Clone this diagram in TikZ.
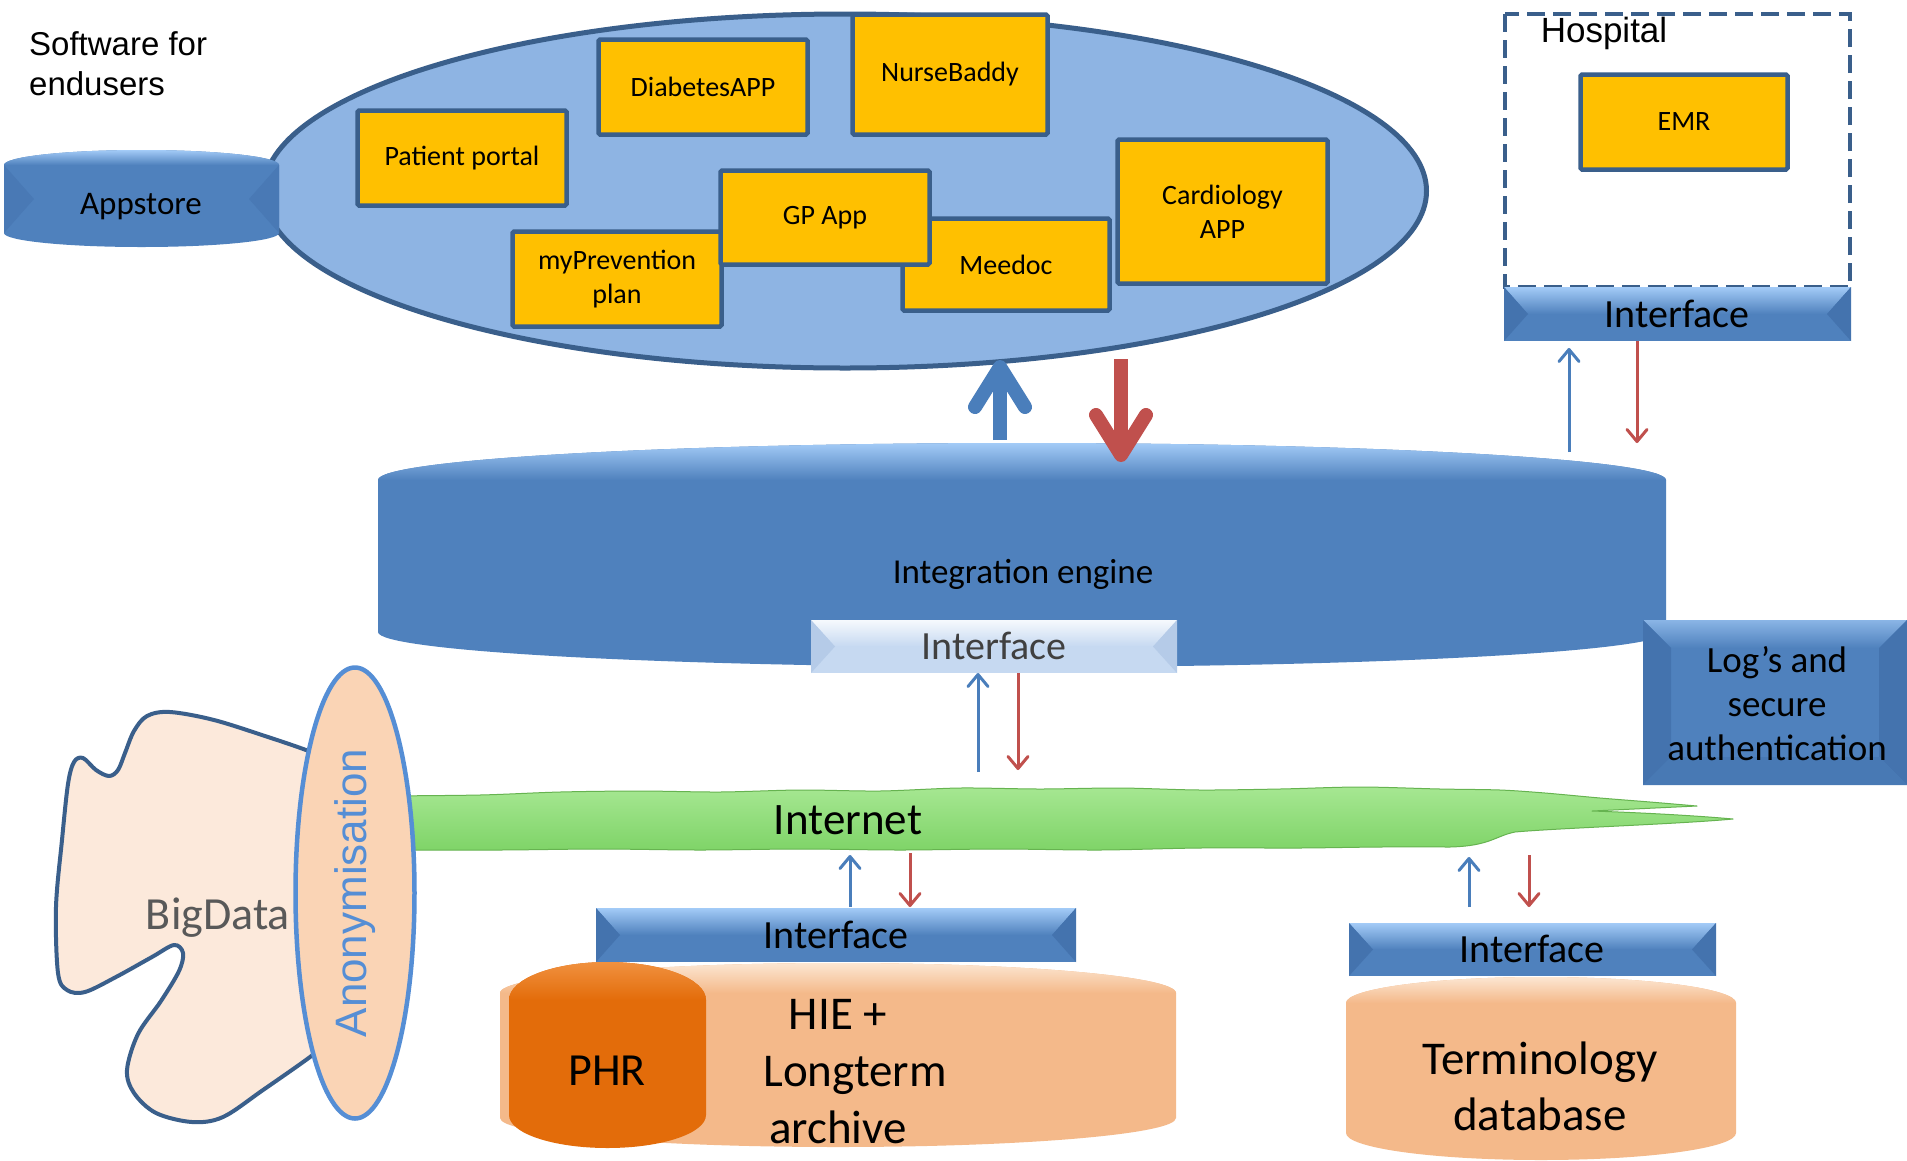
\documentclass[tikz,border=0pt]{standalone}
\usepackage{fontspec}
\setmainfont{Carlito}
\newfontfamily\arialf{Liberation Sans}
\usetikzlibrary{shapes.geometric,arrows.meta}
\definecolor{boxorange}{HTML}{FFC000}
\definecolor{boxedge}{HTML}{3A5F8B}
\definecolor{ellfill}{HTML}{8EB4E3}
\definecolor{midblue}{HTML}{4F81BD}
\definecolor{lightblue}{HTML}{A3CBF7}
\definecolor{sideblue}{HTML}{4473AE}
\definecolor{paleblue}{HTML}{C6D9F1}
\definecolor{palewhite}{HTML}{F6F9FD}
\definecolor{paleside}{HTML}{B5CBE8}
\definecolor{arrblue}{HTML}{4A7EBB}
\definecolor{arrred}{HTML}{C0504D}
\definecolor{peach}{HTML}{F4B98A}
\definecolor{peachlight}{HTML}{FCE6D2}
\definecolor{phr}{HTML}{E36C0A}
\definecolor{phrlight}{HTML}{F0913F}
\definecolor{netgreen}{HTML}{7FD468}
\definecolor{netlight}{HTML}{A6E792}
\definecolor{netedge}{HTML}{66B350}
\definecolor{anonfill}{HTML}{FAD4B5}
\definecolor{anonedge}{HTML}{558ED5}
\definecolor{blobfill}{HTML}{FCE9DB}
\definecolor{graytext}{HTML}{595959}
\definecolor{darktext}{HTML}{404040}
\newcommand{\bevelbar}[7]{%
  \fill[#5] (#1,#2) rectangle (#3,#4);
  \shade[top color=#6, bottom color=#5] (#1,#2) -- (#3,#2) -- ({#3-24},{(#2+#4)/2}) -- ({#1+24},{(#2+#4)/2}) -- cycle;
  \fill[#7] (#1,#2) -- ({#1+24},{(#2+#4)/2}) -- (#1,#4) -- cycle;
  \fill[#7] (#3,#2) -- ({#3-24},{(#2+#4)/2}) -- (#3,#4) -- cycle;
}
\newcommand{\canshape}[8]{%
  \fill[#7] (#1,#3) -- (#1,#5) arc[start angle=180, end angle=0, x radius={(#2-#1)/2}, y radius=#6] -- (#2,#3) arc[start angle=0, end angle=-180, x radius={(#2-#1)/2}, y radius=#4] -- cycle;
  \shade[top color=#8, bottom color=#7] (#1,#3) arc[start angle=180, end angle=360, x radius={(#2-#1)/2}, y radius=#4] -- cycle;
}
\begin{document}
\begin{tikzpicture}[x=1pt,y=-1pt,
  appbox/.style={draw=boxedge, fill=boxorange, line width=4.5pt, rounded corners=1.5pt, inner sep=0pt, align=center, font=\fontsize{28}{34}\selectfont},
  iftext/.style={inner sep=0pt, font=\fontsize{40}{48}\selectfont},
  upthin/.style={draw=arrblue, line width=3pt, -{Straight Barb[length=12pt,width=20pt,round]}},
  downthin/.style={draw=arrred, line width=3pt, -{Straight Barb[length=12pt,width=20pt,round]}},
  upthick/.style={draw=arrblue, line width=14pt, -{Straight Barb[length=40pt,width=50pt,round]}},
  downthick/.style={draw=arrred, line width=14pt, -{Straight Barb[length=40pt,width=50pt,round]}}
]
\useasboundingbox (0,0) rectangle (1907,1160);
\fill[white] (0,0) rectangle (1907,1160);

% software for endusers
\node[ellipse, draw=boxedge, fill=ellfill, line width=5pt, minimum width=1163pt, minimum height=354pt, inner sep=0pt] (apps) at (845,191) {};
\node[appbox, minimum width=209pt, minimum height=95pt] (pp) at (462,158) {Patient portal};
\node[appbox, minimum width=209pt, minimum height=95pt] (diab) at (703,87) {DiabetesAPP};
\node[appbox, minimum width=195pt, minimum height=120pt] (nurse) at (950,74.5) {NurseBaddy};
\node[appbox, minimum width=209pt, minimum height=95pt] (myprev) at (617,279) {myPrevention\\plan};
\node[appbox, minimum width=207pt, minimum height=92pt] (meedoc) at (1006,264.5) {Meedoc};
\node[appbox, minimum width=209pt, minimum height=94pt] (gp) at (825,217.5) {GP App};
\node[appbox, minimum width=210pt, minimum height=144pt] (cardio) at (1222.5,211.5) {Cardiology\\APP};

\canshape{4}{279}{165}{15}{233}{14}{midblue}{lightblue}
\fill[sideblue!55!midblue] (4,165) -- (34,199) -- (4,233) -- cycle;
\fill[sideblue!55!midblue] (279,165) -- (249,199) -- (279,233) -- cycle;
\node[inner sep=0pt, font=\fontsize{33}{40}\selectfont] (appstore) at (141,207) {Appstore};

\node[anchor=north west, inner sep=0pt, align=left, font=\arialf\fontsize{33}{40}\selectfont] (sw) at (29,31) {Software for\\endusers};

% hospital
\draw[boxedge, line width=4.5pt, dash pattern=on 18pt off 8pt] (1505,14) rectangle (1850,287);
\node[anchor=base, inner sep=0pt, font=\arialf\fontsize{35}{40}\selectfont] (hosp) at (1604,42) {Hospital};
\node[appbox, minimum width=207pt, minimum height=95pt] (emr) at (1684,122) {EMR};
\bevelbar{1504}{287}{1851}{341}{midblue}{lightblue}{sideblue}
\node[iftext] (ifhosp) at (1677,314) {Interface};

% integration engine
\canshape{378}{1666}{480}{37}{632}{35}{midblue}{lightblue}
\node[inner sep=0pt, font=\fontsize{35}{42}\selectfont] (engine) at (1023,574) {Integration engine};
\bevelbar{811}{620}{1177}{673}{paleblue}{palewhite}{paleside}
\node[iftext, text=darktext] (ifeng) at (994,646) {Interface};

% logs box
\fill[midblue] (1643,620) rectangle (1907,785);
\shade[top color=lightblue!70!midblue, bottom color=midblue] (1643,620) -- (1907,620) -- (1879,648) -- (1671,648) -- cycle;
\fill[sideblue] (1643,620) -- (1671,648) -- (1671,757) -- (1643,785) -- cycle;
\fill[sideblue] (1907,620) -- (1879,648) -- (1879,757) -- (1907,785) -- cycle;
\fill[sideblue!60!midblue] (1643,785) -- (1671,757) -- (1879,757) -- (1907,785) -- cycle;
\node[inner sep=0pt, align=center, font=\fontsize{37}{44}\selectfont] (logs) at (1777,704) {Log’s and\\secure\\authentication};

% bigdata blob
\draw[draw=boxedge, fill=blobfill, line width=4pt, line join=round]
  plot[smooth, tension=0.55] coordinates {(330,760) (306,750) (268,737) (214,720) (170,712) (147,716) (134,731) (125,753) (118,770) (109,776) (96,770) (83,758) (74,762) (68,784) (62,840) (56,907) (58,973) (67,990) (85,992) (116,977) (152,957) (174,945) (183,953) (179,971) (161,1001) (138,1034) (127,1070) (134,1093) (156,1113) (192,1122) (223,1117) (263,1090) (310,1057) (330,1040)}
  -- (345,900) -- cycle;
\node[inner sep=0pt, text=graytext, font=\fontsize{46}{54}\selectfont] (bigdata) at (218,918) {BigData};

% internet band
\shadedraw[top color=netlight, bottom color=netgreen, draw=netedge, line width=1pt, line join=round]
  plot[smooth, tension=0.5] coordinates {(380,796) (480,795) (560,792) (640,791) (720,792) (800,790) (880,791) (960,788) (1040,789) (1120,788) (1200,790) (1280,789) (1360,787) (1440,789) (1500,790) (1545,793) (1600,798) (1650,802) (1697,806)}
  -- (1592,811)
  .. controls (1650,813) and (1700,816) .. (1733,819)
  .. controls (1680,824) and (1560,828) .. (1515,832)
  .. controls (1495,836) and (1490,846) .. (1450,847)
  -- plot[smooth, tension=0.5] coordinates {(1450,847) (1380,847) (1300,848) (1200,848) (1100,850) (1000,849) (900,850) (800,849) (700,850) (600,849) (500,850) (380,850)}
  -- cycle;
\node[inner sep=0pt, font=\fontsize{45}{54}\selectfont] (internet) at (848,820) {Internet};

% anonymisation
\node[ellipse, rotate=90, draw=anonedge, fill=anonfill, line width=4.5pt, minimum width=451pt, minimum height=119pt, inner sep=0pt, text=anonedge, font=\arialf\fontsize{44}{50}\selectfont] (anon) at (355,893) {Anonymisation};

% PHR / HIE
\bevelbar{596}{908}{1076}{962}{midblue}{lightblue}{sideblue}
\node[iftext] (ifphr) at (836,935) {Interface};
\canshape{500}{1176}{993}{30}{1118}{29}{peach}{peachlight}
\canshape{509}{706}{1000}{38}{1115}{33}{phr}{phrlight}
\node[inner sep=0pt, font=\fontsize{46}{54}\selectfont] (phrt) at (607,1071) {PHR};
\node[inner sep=0pt, align=center, font=\fontsize{47}{57}\selectfont] (hie) at (838,1072) {HIE +\\\hspace*{34pt}Longterm\\archive};

% terminology
\bevelbar{1349}{923}{1716}{976}{midblue}{lightblue}{sideblue}
\node[iftext] (ifterm) at (1532,949) {Interface};
\canshape{1346}{1736}{1003}{26}{1133}{27}{peach}{peachlight}
\node[inner sep=0pt, align=center, font=\fontsize{47}{56}\selectfont] (term) at (1540,1086) {Terminology\\database};

% connectors
\coordinate (tkb1) at (1000,440); \coordinate (tkb2) at (1000,360);
\coordinate (tkr1) at (1121,359); \coordinate (tkr2) at (1121,462);
\coordinate (hb1) at (1569,452); \coordinate (hb2) at (1569,348);
\coordinate (hr1) at (1637,341); \coordinate (hr2) at (1637,443);
\coordinate (eb1) at (978,772); \coordinate (eb2) at (978,673);
\coordinate (er1) at (1018,673); \coordinate (er2) at (1018,770);
\coordinate (pb1) at (850,907); \coordinate (pb2) at (850,855);
\coordinate (pr1) at (910,853); \coordinate (pr2) at (910,907);
\coordinate (tb1) at (1469,907); \coordinate (tb2) at (1469,857);
\coordinate (tr1) at (1529,855); \coordinate (tr2) at (1529,907);
\draw[upthick] (tkb1) -- (tkb2);
\draw[downthick] (tkr1) -- (tkr2);
\draw[upthin] (hb1) -- (hb2);
\draw[downthin] (hr1) -- (hr2);
\draw[upthin] (eb1) -- (eb2);
\draw[downthin] (er1) -- (er2);
\draw[upthin] (pb1) -- (pb2);
\draw[downthin] (pr1) -- (pr2);
\draw[upthin] (tb1) -- (tb2);
\draw[downthin] (tr1) -- (tr2);
\end{tikzpicture}
\end{document}
